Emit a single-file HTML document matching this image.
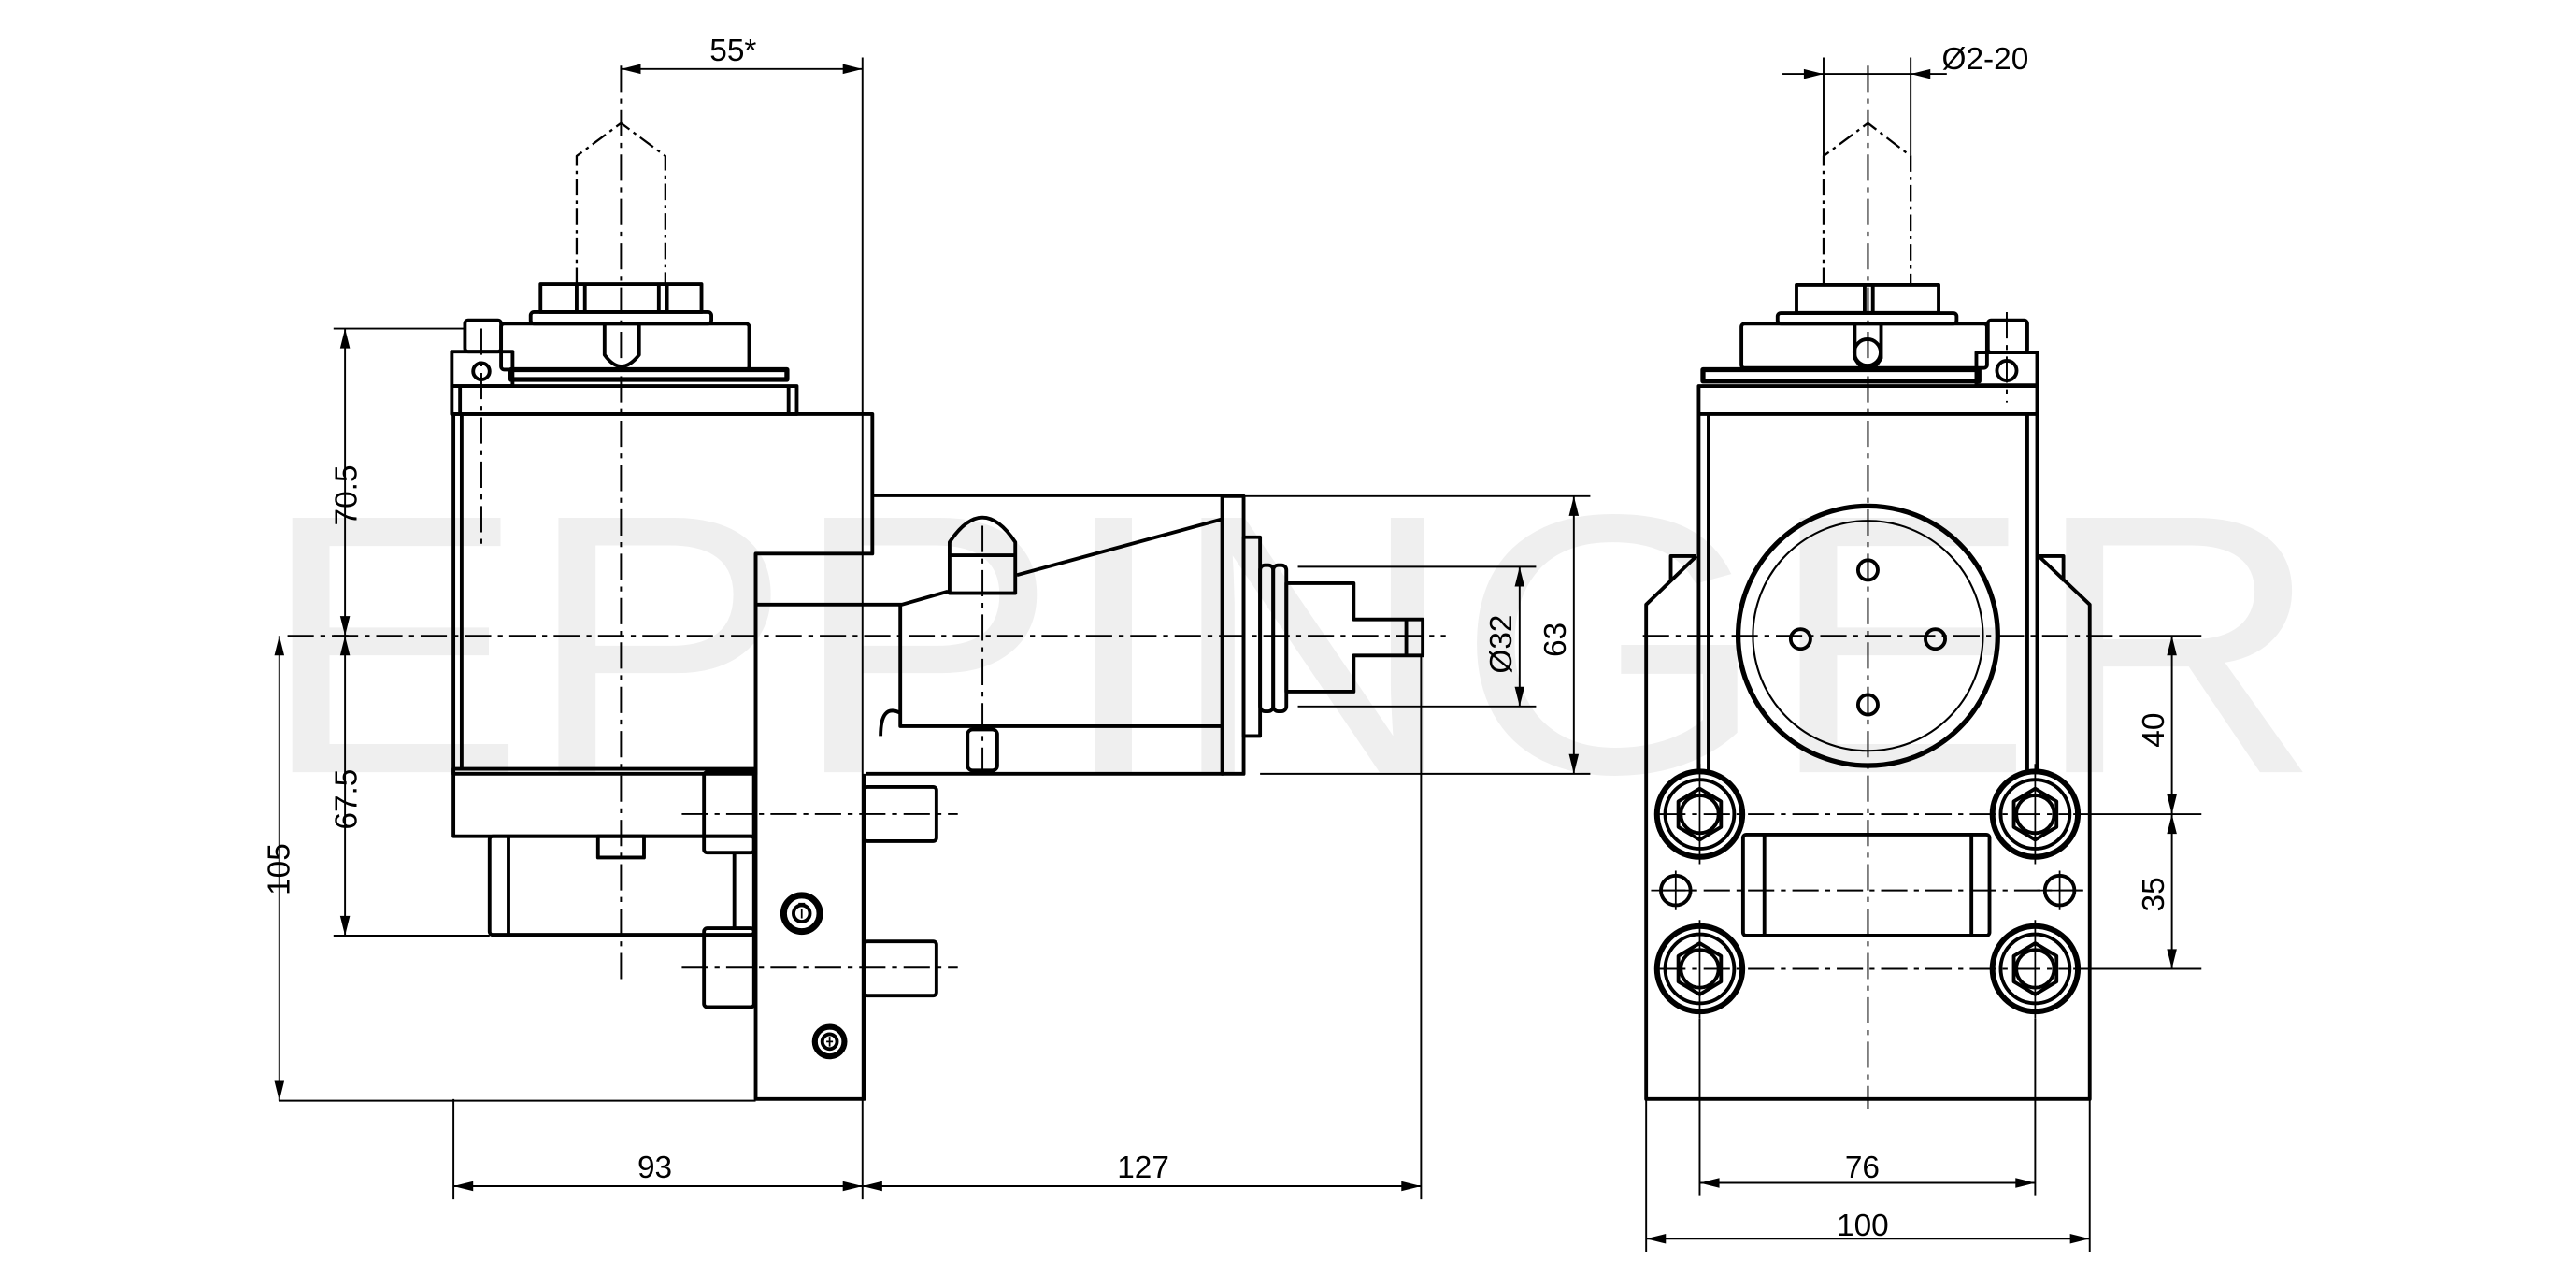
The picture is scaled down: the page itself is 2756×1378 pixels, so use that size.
<!DOCTYPE html>
<html><head><meta charset="utf-8"><style>html,body{margin:0;padding:0;background:#fff}svg{display:block}</style></head><body>
<svg width="2756" height="1378" viewBox="0 0 1568 784" xmlns="http://www.w3.org/2000/svg" font-family="Liberation Sans, sans-serif">
<text x="158" y="470" font-size="225" fill="#efefef" textLength="1255" lengthAdjust="spacingAndGlyphs">EPPINGER</text>
<g fill="none" stroke="#000" stroke-width="2.2" stroke-linejoin="round">
<!-- LEFT VIEW -->
<path d="M351 173V95L378 75L405 95V173" stroke-dasharray="10 3 2 3" stroke-width="1.3"/>
<rect x="329" y="173" width="98" height="17"/>
<path d="M351 173V190M356 173V190M401 173V190M406 173V190"/>
<rect x="323" y="190" width="110" height="7" rx="2"/>
<rect x="305" y="197" width="151" height="28" rx="2"/>
<path d="M368 197V216Q378 230 389 216V197"/>
<rect x="311" y="225" width="168" height="6" stroke-width="3"/>
<rect x="275" y="235" width="210" height="17"/>
<path d="M280 235V252M480 235V252"/>
<rect x="275" y="214" width="37" height="21"/>
<rect x="283" y="195" width="22" height="19" rx="2"/>
<circle cx="293" cy="226" r="5"/>
<path d="M276 252H531V337H460V471H276Z"/>
<path d="M281 252V468"/>
<path d="M460 337V669H526V471"/>
<path d="M531 301.5H744V471H527"/>
<path d="M460 368H549L577 360M619 350L744 316"/>
<path d="M548 368V442H744"/>
<path d="M578 338V330Q598 300 618 330V361H578ZM578 338H618"/>
<rect x="589" y="444" width="18" height="25" rx="3"/>
<path d="M536 448Q536 428 548 434"/>
<rect x="744" y="302" width="13" height="169"/>
<rect x="757" y="327" width="10" height="121"/>
<rect x="767" y="344" width="8" height="89" rx="3"/><rect x="775" y="344" width="8" height="89" rx="3"/>
<path d="M783 355H824V377H866V399H824V421H783Z"/>
<path d="M856 377V399"/>
<rect x="276" y="468" width="183" height="41"/>
<rect x="298" y="509" width="161" height="60" rx="2"/>
<path d="M309.5 509V569M447 519V565"/>
<rect x="364" y="509" width="28" height="13"/>
<rect x="428.5" y="470" width="30.5" height="49" rx="2"/>
<rect x="428.5" y="565" width="30.5" height="48" rx="2"/>
<rect x="526" y="479" width="44" height="33" rx="2"/>
<rect x="526" y="573" width="44" height="33" rx="2"/>
<circle cx="488" cy="556" r="11" stroke-width="4"/><circle cx="488" cy="556" r="5"/>
<circle cx="505" cy="634" r="9" stroke-width="3.5"/><circle cx="505" cy="634" r="4.5"/>
<!-- RIGHT VIEW -->
<path d="M1110 173V95L1137 75L1163 95V173" stroke-dasharray="10 3 2 3" stroke-width="1.3"/>
<rect x="1093.5" y="173.5" width="86.5" height="17"/>
<path d="M1135 173V190M1140 173V190"/>
<rect x="1082" y="190.6" width="109" height="6.4" rx="2"/>
<rect x="1060" y="197" width="149.5" height="27" rx="2"/>
<path d="M1129 197V218Q1137 232 1145 218V197"/>
<circle cx="1136.7" cy="214.5" r="8"/>
<rect x="1036.6" y="225" width="168" height="7" stroke-width="3"/>
<rect x="1034" y="235" width="206" height="17"/>
<rect x="1203" y="214.5" width="37" height="20"/>
<rect x="1210" y="195" width="24" height="19.5" rx="2"/>
<circle cx="1221.5" cy="225.6" r="6"/>
<path d="M1034 252V470M1040 252V470M1234 252V470M1240 252V470"/>
<path d="M1032.6 338.5H1017V354M1032.6 338.5L1002 368V669H1272V368L1241 338.5H1256V354"/>
<circle cx="1137" cy="387" r="79" stroke-width="3"/>
<circle cx="1137" cy="387" r="70" stroke-width="1.2"/>
<circle cx="1137" cy="347" r="6"/><circle cx="1137" cy="429" r="6"/><circle cx="1096" cy="389" r="6"/><circle cx="1178" cy="389" r="6"/>
<rect x="1061" y="508" width="150" height="61.5" rx="2"/>
<path d="M1074 508V569.5M1200 508V569.5"/>
<g id="b"><circle cx="1034.6" cy="495.6" r="26" stroke-width="3.4"/><circle cx="1034.6" cy="495.6" r="21"/><path d="M1034.6 480L1047.6 487.8V503.4L1034.6 511.2L1021.6 503.4V487.8Z"/><circle cx="1034.6" cy="495.6" r="11.5"/></g>
<use href="#b" x="204.2"/><use href="#b" y="94.1"/><use href="#b" x="204.2" y="94.1"/>
<circle cx="1020" cy="542" r="9"/><circle cx="1253.7" cy="542" r="9"/>
</g>
<!-- centre lines -->
<g fill="none" stroke="#000" stroke-width="1.1" stroke-dasharray="16 4 3 4">
<path d="M378 40V600M175 387H880M598 320V475M293 200V335M1137 40V675M1000 387H1290M1010 495.6H1260M1010 589.7H1260M1010 542H1268M1221.5 190V245M415 495.5H583M415 589H583"/>
</g>
<g fill="none" stroke="#000" stroke-width="1">
<path d="M1034.6 465V526M1238.8 465V526M1034.6 560V620M1238.8 560V620M1020 530V554M1253.7 530V554M1005 542H1033M1240 542H1268M486 550H490M488 553V559M503 634H507M505 631V637"/>
</g>
<!-- dimensions -->
<g fill="none" stroke="#000" stroke-width="1.1">
<path d="M378 42H525M525 35V730M276 669V730M865 400V730M276 722H865M203 200H283M203 387H212M210 200V569.5M203 569.5H298M170 387V670M170 670H460M1002 669V762M1272 669V762M1002 754H1272M1034.6 620V728M1238.8 620V728M1034.6 720H1238.8M1085 45H1185M1110 35V95M1163 35V95M757 302H968M767 471H968M958 302V471M790 345H935M790 430H935M925 345V430M1262 495.6H1340M1262 589.7H1340M1290 387H1340M1322 387V589.7"/>
</g>
<g fill="#000">
<path d="M378 42l12-3v6zM525 42l-12-3v6zM276 722l12-3v6zM525 722l-12-3v6zM525 722l12-3v6zM865 722l-12-3v6zM210 200l-3 12h6zM210 387l-3-12h6zM210 387l-3 12h6zM210 569.5l-3-12h6zM170 387l-3 12h6zM170 670l-3-12h6zM1002 754l12-3v6zM1272 754l-12-3v6zM1034.6 720l12-3v6zM1238.8 720l-12-3v6zM1110 45l-12-3v6zM1163 45l12-3v6zM925 345l-3 12h6zM925 430l-3-12h6zM958 302l-3 12h6zM958 471l-3-12h6zM1322 387l-3 12h6zM1322 495.6l-3-12h6zM1322 495.6l-3 12h6zM1322 589.7l-3-12h6z"/>
</g>
<g font-size="19" fill="#000">
<text x="432" y="37">55*</text>
<text x="388" y="717">93</text>
<text x="680" y="717">127</text>
<text x="1123" y="717">76</text>
<text x="1118" y="752">100</text>
<text x="1182" y="42">Ø2-20</text>
<text transform="translate(217 320) rotate(-90)">70.5</text>
<text transform="translate(217 505) rotate(-90)">67.5</text>
<text transform="translate(176 545) rotate(-90)">105</text>
<text transform="translate(920 410) rotate(-90)">Ø32</text>
<text transform="translate(953 400) rotate(-90)">63</text>
<text transform="translate(1317 455) rotate(-90)">40</text>
<text transform="translate(1317 555) rotate(-90)">35</text>
</g>
</svg>
</body></html>
